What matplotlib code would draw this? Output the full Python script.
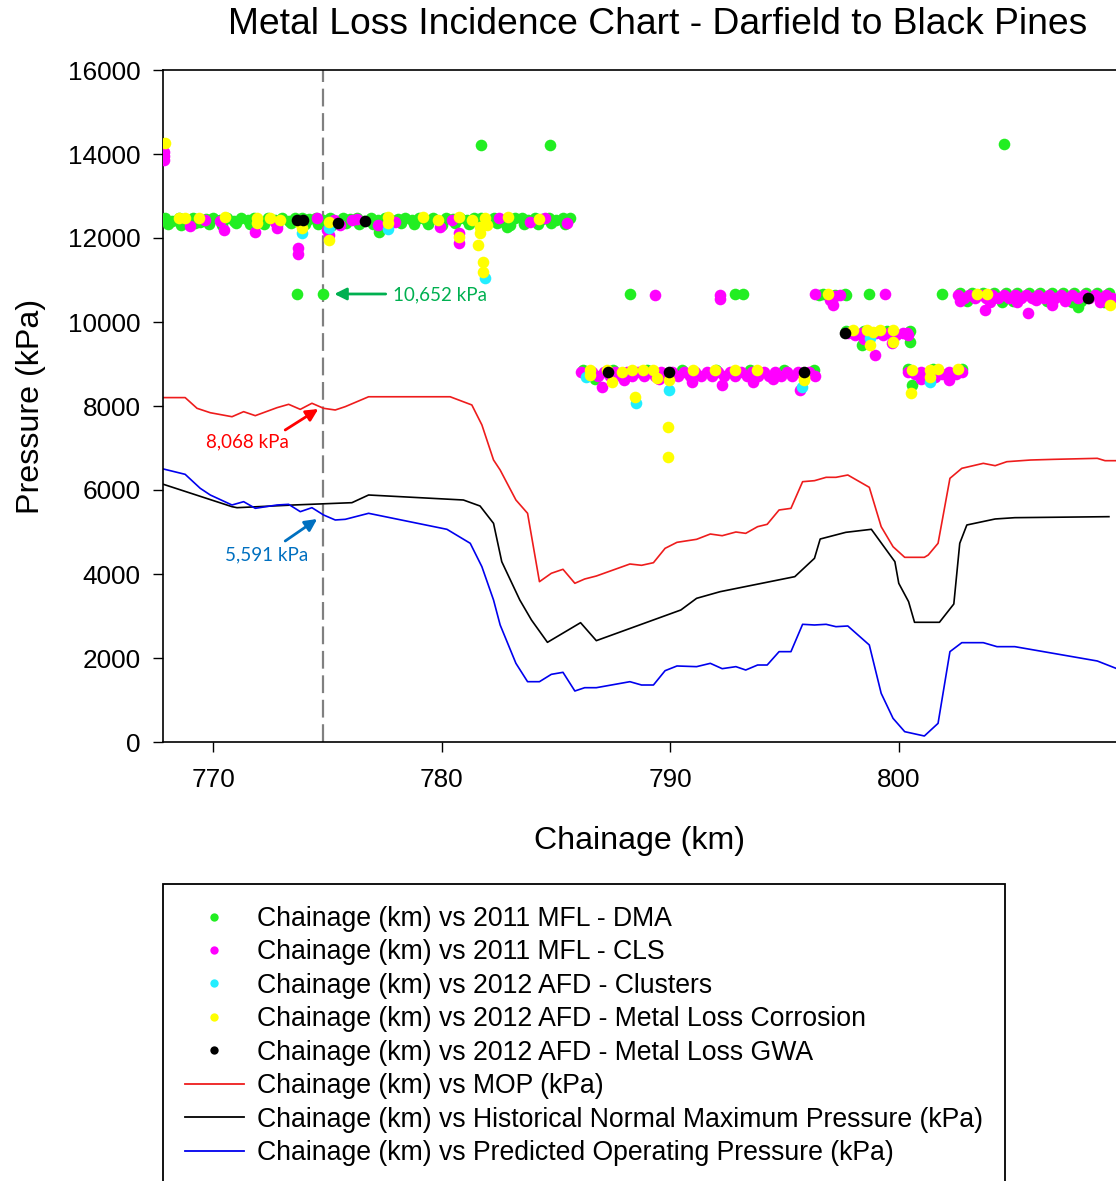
import matplotlib
matplotlib.use("Agg")
from matplotlib import pyplot as plt
from matplotlib.lines import Line2D

plt.rcParams["font.family"] = ["Liberation Sans", "DejaVu Sans"]

# ---- pressure profiles (km, kPa) ----
mop_km = [767.82, 768.77, 769.29, 769.87, 770.82, 771.33, 771.84, 772.79, 773.30, 773.81,
          774.32, 774.83, 775.34, 775.78, 776.80, 780.37, 781.32, 781.76, 782.27, 782.56,
          783.25, 783.76, 784.28, 784.80, 785.31, 785.83, 786.26, 786.77, 788.24, 788.75,
          789.27, 789.78, 790.30, 791.16, 791.76, 792.28, 792.88, 793.31, 793.83, 794.25,
          794.77, 795.29, 795.80, 796.32, 796.83, 797.26, 797.78, 798.72, 799.24, 799.76,
          800.27, 801.13, 801.30, 801.73, 802.25, 802.77, 803.71, 804.23, 804.74, 805.78,
          806.80, 808.70, 809.04, 809.52]
mop_kpa = [8200, 8200, 7945, 7840, 7745, 7865, 7770, 7960, 8040, 7920,
           8065, 7945, 7905, 7985, 8220, 8220, 8025, 7550, 6715, 6476,
           5762, 5445, 3817, 4017, 4112, 3779, 3881, 3952, 4238, 4207,
           4269, 4611, 4754, 4826, 4952, 4912, 5000, 4968, 5127, 5183,
           5524, 5563, 6198, 6222, 6302, 6302, 6357, 6064, 5127, 4650,
           4397, 4397, 4452, 4731, 6278, 6516, 6635, 6579, 6674, 6714,
           6730, 6754, 6698, 6698]

hnmp_km = [767.82, 770.82, 771.04, 773.51, 776.07, 776.80, 780.95, 781.68, 782.27, 782.63,
           783.42, 783.93, 784.63, 786.08, 786.77, 790.47, 791.16, 792.19, 795.46, 796.32,
           796.57, 797.69, 798.81, 799.84, 800.01, 800.44, 800.70, 801.79, 802.42, 802.68,
           802.99, 804.23, 805.09, 809.21]
hnmp_kpa = [6135, 5603, 5579, 5643, 5698, 5881, 5762, 5619, 5206, 4293,
            3381, 2905, 2373, 2841, 2413, 3143, 3421, 3579, 3937, 4374,
            4833, 4992, 5064, 4293, 3778, 3341, 2850, 2850, 3286, 4731,
            5167, 5310, 5341, 5365]

pop_km = [767.82, 768.77, 769.43, 769.87, 770.82, 771.33, 771.84, 772.79, 773.30, 773.81,
          774.32, 774.83, 775.34, 775.78, 776.80, 780.23, 781.25, 781.76, 782.27, 782.56,
          783.25, 783.76, 784.28, 784.80, 785.31, 785.83, 786.26, 786.77, 788.24, 788.75,
          789.27, 789.78, 790.30, 791.16, 791.76, 792.28, 792.88, 793.31, 793.83, 794.25,
          794.77, 795.29, 795.80, 796.32, 796.83, 797.26, 797.78, 798.72, 799.24, 799.76,
          800.27, 801.13, 801.73, 802.25, 802.77, 803.71, 804.31, 805.09, 808.70, 809.52]
pop_kpa = [6500, 6373, 6040, 5881, 5643, 5722, 5564, 5643, 5659, 5484,
           5579, 5405, 5286, 5302, 5445, 5064, 4731, 4174, 3381, 2786,
           1873, 1436, 1436, 1611, 1659, 1214, 1293, 1293, 1436, 1357,
           1357, 1698, 1810, 1794, 1873, 1746, 1794, 1714, 1833, 1833,
           2151, 2151, 2802, 2786, 2802, 2746, 2762, 2310, 1159, 563,
           246, 143, 444, 2151, 2365, 2365, 2270, 2270, 1929, 1754]

# ---- inspection results (km, kPa) ----
dma_km = [767.9, 768.2, 768.5, 768.8, 769.1, 769.4, 769.7, 770.0, 770.3, 770.6,
          770.9, 771.2, 771.5, 771.8, 772.1, 772.4, 772.7, 773.0, 773.3, 773.6,
          773.9, 774.2, 774.5, 774.8, 775.1, 775.4, 775.7, 776.0, 776.3, 776.6,
          776.9, 777.2, 777.5, 777.8, 778.1, 778.4, 778.7, 779.0, 779.3, 779.6,
          779.9, 780.2, 780.5, 780.8, 781.1, 781.4, 781.7, 782.0, 782.3, 782.6,
          782.9, 783.2, 783.5, 783.8, 784.1, 784.4, 784.7, 785.0, 785.3, 785.6,
          768.0, 768.6, 769.2, 769.8, 770.4, 771.0, 771.6, 772.2, 772.8, 773.4,
          774.0, 774.6, 775.2, 775.8, 776.4, 777.0, 777.6, 778.2, 778.8, 779.4,
          780.0, 780.6, 781.2, 781.8, 782.4, 783.0, 783.6, 784.2, 784.8, 785.4,
          777.25, 782.85, 781.73, 784.75, 773.68, 774.81, 804.62, 786.72, 788.25, 792.85,
          793.18, 796.71, 797.66, 798.72, 801.89, 798.39, 800.50, 800.58, 804.52, 807.87,
          786.2, 787.5, 789.0, 790.5, 792.0, 793.5, 795.0, 796.3,
          802.7, 803.2, 803.7, 804.2, 804.7, 805.2, 805.7, 806.2, 806.7, 807.2,
          807.7, 808.2, 808.7, 809.2, 803.0, 805.0, 806.5, 807.6, 808.0, 809.0,
          797.7, 798.5, 799.5, 800.5, 800.4, 801.5, 802.8, 796.5, 797.2, 797.7]
dma_kpa = [12480, 12400, 12470, 12440, 12480, 12380, 12460, 12480, 12420, 12470,
           12400, 12480, 12440, 12480, 12390, 12470, 12430, 12480, 12410, 12470,
           12480, 12450, 12480, 12430, 12470, 12400, 12480, 12450, 12480, 12400,
           12470, 12440, 12480, 12420, 12460, 12480, 12420, 12480, 12440, 12470,
           12400, 12480, 12450, 12480, 12420, 12470, 12480, 12440, 12480, 12400,
           12450, 12470, 12480, 12430, 12480, 12450, 12480, 12420, 12470, 12480,
           12340, 12320, 12350, 12330, 12300, 12350, 12330, 12340, 12320, 12350,
           12330, 12340, 12300, 12350, 12330, 12340, 12320, 12350, 12330, 12340,
           12320, 12350, 12330, 12340, 12350, 12320, 12340, 12330, 12350, 12340,
           12140, 12270, 14214, 14214, 10667, 10667, 14238, 8643, 10667, 10667,
           10667, 10667, 10667, 10667, 10667, 9452, 9531, 8500, 10483, 10365,
           8850, 8850, 8850, 8850, 8850, 8850, 8850, 8850,
           10690, 10680, 10690, 10680, 10690, 10680, 10690, 10680, 10690, 10680,
           10690, 10680, 10690, 10680, 10500, 10500, 10500, 10480, 10500, 10480,
           9790, 9790, 9790, 9790, 8880, 8880, 8880, 10650, 10650, 10650]

cls_km = [767.85, 767.85, 767.85,
          769.0, 769.65, 770.45, 770.3, 771.84, 772.7, 772.79, 773.73, 773.73, 774.54,
          774.98, 775.05, 775.3, 775.56, 776.07, 776.3, 777.23, 777.97, 779.93, 780.45,
          780.74, 780.74, 782.49, 783.87, 784.53, 785.48,
          786.1, 786.35, 786.6, 786.85, 787.1, 787.35, 787.6, 787.85, 788.1, 788.35,
          788.6, 788.85, 789.1, 789.35, 789.6, 789.85, 790.1, 790.35, 790.6, 790.85,
          791.1, 791.35, 791.6, 791.85, 792.1, 792.35, 792.6, 792.85, 793.1, 793.35,
          793.6, 793.85, 794.1, 794.35, 794.6, 794.85, 795.1, 795.35, 795.6, 795.85,
          796.1, 796.35,
          787.01, 787.96, 790.95, 792.26, 793.65, 795.69, 789.5, 794.5,
          789.34, 792.19, 792.19, 796.35, 797.44, 797.15, 797.0, 797.2, 799.41,
          797.8, 798.1, 798.4, 798.7, 799.0, 799.3, 799.6, 799.9, 800.2, 800.4,
          798.97, 799.7, 800.36, 798.5,
          800.4, 800.7, 801.0, 801.3, 801.6, 801.9, 802.2, 802.5, 802.8,
          801.0, 802.2, 801.6,
          802.6, 802.85, 803.1, 803.35, 803.6, 803.85, 804.1, 804.35, 804.6, 804.85,
          805.1, 805.35, 805.6, 805.85, 806.1, 806.35, 806.6, 806.85, 807.1, 807.35,
          807.6, 807.85, 808.1, 808.35, 808.6, 808.85, 809.1, 809.35,
          803.79, 805.68, 806.7, 802.7, 804.0, 805.2, 806.0, 807.3, 808.8]
cls_kpa = [13850, 13950, 14050,
           12290, 12430, 12190, 12400, 12150, 12390, 12230, 11755, 11630, 12469,
           12190, 12060, 12420, 12310, 12429, 12450, 12310, 12389, 12270, 12429,
           12111, 11874, 12469, 12389, 12469, 12365,
           8800, 8720, 8800, 8720, 8800, 8720, 8800, 8720, 8800, 8720,
           8800, 8720, 8800, 8720, 8800, 8720, 8800, 8720, 8800, 8720,
           8800, 8720, 8800, 8720, 8800, 8720, 8800, 8720, 8800, 8720,
           8800, 8720, 8800, 8720, 8800, 8720, 8800, 8720, 8800, 8720,
           8800, 8720,
           8460, 8620, 8579, 8500, 8579, 8381, 8650, 8650,
           10643, 10643, 10540, 10667, 10640, 10405, 10524, 10620, 10667,
           9750, 9680, 9750, 9680, 9750, 9680, 9750, 9680, 9750, 9700,
           9214, 9493, 9730, 9600,
           8800, 8760, 8800, 8760, 8800, 8760, 8800, 8760, 8800,
           8650, 8620, 8700,
           10650, 10580, 10650, 10580, 10650, 10580, 10650, 10580, 10650, 10580,
           10650, 10580, 10650, 10580, 10650, 10580, 10650, 10580, 10650, 10580,
           10650, 10580, 10650, 10580, 10650, 10580, 10650, 10580,
           10286, 10207, 10405, 10500, 10480, 10480, 10520, 10500, 10480]

clusters_km = [773.88, 775.05, 777.67, 781.9, 789.93, 788.51, 795.77, 798.75, 801.38, 786.3]
clusters_kpa = [12111, 12230, 12207, 11040, 8381, 8079, 8460, 9612, 8579, 8700]

mlc_km = [767.88,
          768.48, 768.77, 769.36, 770.53, 771.91, 771.91, 772.49, 772.93, 773.81, 773.88,
          775.05, 775.05, 777.67, 777.67, 779.2, 779.86, 780.74, 780.74, 781.32, 781.68,
          781.68, 781.61, 781.9, 781.98, 781.83, 781.83, 782.92, 784.24,
          786.5, 786.5, 787.23, 787.45, 788.32, 788.83, 789.27, 789.42, 789.93, 791.02,
          791.97, 792.85, 793.79, 795.84, 795.84, 788.47, 789.91, 789.91, 787.9,
          796.93, 798.02, 798.9, 799.19, 799.77, 799.77, 798.75, 798.6,
          800.58, 801.38, 801.74, 802.62, 800.55, 801.38,
          803.42, 803.86, 809.26]
mlc_kpa = [14262,
           12469, 12469, 12469, 12508, 12469, 12350, 12469, 12429, 12350, 12230,
           12389, 11952, 12508, 12350, 12508, 12429, 12508, 12032, 12429, 12270,
           12111, 11833, 12469, 12310, 11436, 11198, 12508, 12445,
           8857, 8750, 8857, 8579, 8857, 8857, 8857, 8659, 8619, 8857,
           8857, 8857, 8857, 8619, 8700, 8222, 7500, 6786, 8800,
           10667, 9810, 9770, 9810, 9810, 9531, 9452, 9800,
           8857, 8857, 8873, 8873, 8310, 8700,
           10667, 10667, 10405]

gwa_km = [773.66, 773.95, 775.48, 776.65, 787.3, 789.93, 795.84, 797.66, 808.31]
gwa_kpa = [12429, 12429, 12350, 12412, 8817, 8817, 8817, 9730, 10564]

legend_labels = [
    "Chainage (km) vs 2011 MFL - DMA",
    "Chainage (km) vs 2011 MFL - CLS",
    "Chainage (km) vs 2012 AFD - Clusters",
    "Chainage (km) vs 2012 AFD - Metal Loss Corrosion",
    "Chainage (km) vs 2012 AFD - Metal Loss GWA",
    "Chainage (km) vs MOP (kPa)",
    "Chainage (km) vs Historical Normal Maximum Pressure (kPa)",
    "Chainage (km) vs Predicted Operating Pressure (kPa)",
]

point_colors = ["#22ee22", "#ff00ff", "#22eeff", "#ffff00", "#000000"]
line_colors = ["#ee1c1c", "#000000", "#0000ee"]

W, H = 1116, 1181
fig = plt.figure(figsize=(W / 100, H / 100), dpi=100)
ax = fig.add_axes([163 / W, 1 - 742 / H, (1116 - 163) / W, (742 - 70) / H])

ax.plot(mop_km, mop_kpa, color=line_colors[0], lw=1.2, zorder=2)
ax.plot(hnmp_km, hnmp_kpa, color=line_colors[1], lw=1.2, zorder=2)
ax.plot(pop_km, pop_kpa, color=line_colors[2], lw=1.2, zorder=2)

ms = 70
ax.scatter(dma_km, dma_kpa, s=ms, color=point_colors[0], lw=0, zorder=3)
ax.scatter(cls_km, cls_kpa, s=ms, color=point_colors[1], lw=0, zorder=4)
ax.scatter(clusters_km, clusters_kpa, s=ms, color=point_colors[2], lw=0, zorder=5)
ax.scatter(mlc_km, mlc_kpa, s=ms, color=point_colors[3], lw=0, zorder=6)
ax.scatter(gwa_km, gwa_kpa, s=ms, color=point_colors[4], lw=0, zorder=7)

# location of interest
ax.axvline(774.81, color="#808080", lw=1.6, dashes=(8, 3), zorder=1)

ann_font = ["Lato", "DejaVu Sans"]
ax.annotate("", xy=(775.3, 10667), xytext=(777.55, 10667),
            arrowprops=dict(arrowstyle="-|>", color="#00b050", lw=2, mutation_scale=18,
                            shrinkA=0, shrinkB=0))
ax.text(777.88, 10640, "10,652 kPa", color="#00b050", fontsize=13.5, family=ann_font,
        ha="left", va="center")
ax.annotate("", xy=(774.6, 7929), xytext=(773.15, 7429),
            arrowprops=dict(arrowstyle="-|>", color="#ff0000", lw=2, mutation_scale=18,
                            shrinkA=0, shrinkB=0))
ax.text(771.49, 7143, "8,068 kPa", color="#ff0000", fontsize=13.5, family=ann_font,
        ha="center", va="center")
ax.annotate("", xy=(774.55, 5310), xytext=(773.15, 4786),
            arrowprops=dict(arrowstyle="-|>", color="#0070c0", lw=2, mutation_scale=18,
                            shrinkA=0, shrinkB=0))
ax.text(772.32, 4452, "5,591 kPa", color="#0070c0", fontsize=13.5, family=ann_font,
        ha="center", va="center")

ax.set_xlim(767.8, 809.52)
ax.set_ylim(0, 16000)
ax.set_xticks([770, 780, 790, 800])
ax.set_yticks(range(0, 16001, 2000))
ax.tick_params(direction="out", length=7, width=1, labelsize=18.8, colors="black")
ax.tick_params(axis="x", pad=12)
ax.tick_params(axis="y", pad=9)
ax.spines["right"].set_visible(False)
for side in ["left", "top", "bottom"]:
    ax.spines[side].set_linewidth(1.2)
ax.set_xlabel("Chainage (km)", fontsize=23.1, labelpad=24)
ax.set_ylabel("Pressure (kPa)", fontsize=23.2, labelpad=16)

fig.text(658 / W, 1 - 24 / H, "Metal Loss Incidence Chart - Darfield to Black Pines",
         fontsize=26.8, ha="center", va="center")

handles = [Line2D([], [], ls="", marker="o", ms=6, mec="none", color=c) for c in point_colors]
handles += [Line2D([], [], color=c, lw=1.3) for c in line_colors]
leg = fig.legend(handles, legend_labels, loc="upper left",
                 bbox_to_anchor=(163 / W, 1 - 884 / H), fontsize=19.2,
                 frameon=True, fancybox=False, edgecolor="black", framealpha=1,
                 handlelength=2.22, handletextpad=0.5, labelspacing=0.28,
                 borderpad=0.82, borderaxespad=0)
leg.get_frame().set_linewidth(1.3)

fig.savefig("out.png", dpi=100)
plt.close(fig)
